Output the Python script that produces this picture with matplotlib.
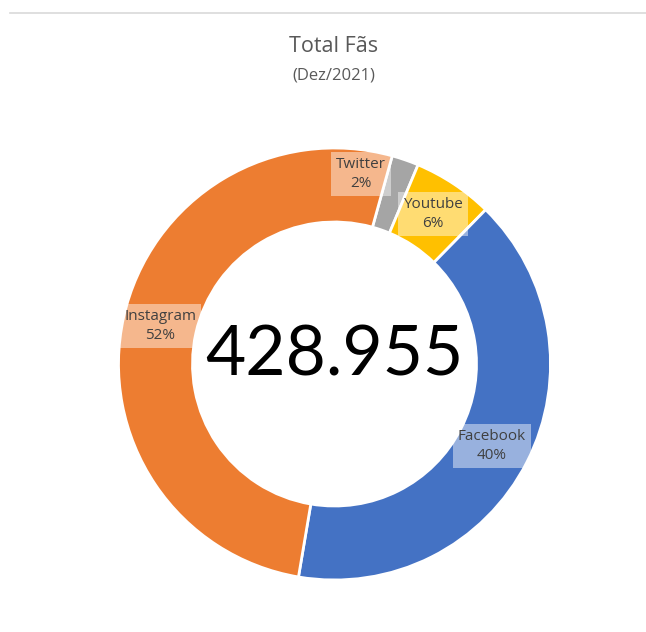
import matplotlib
matplotlib.use("Agg")
import matplotlib.pyplot as plt
from matplotlib.lines import Line2D

# data (clockwise from the first slice)
networks = ["Twitter", "Youtube", "Facebook", "Instagram"]
fans = [8655, 25800, 173000, 221500]
colors = ["#A5A5A5", "#FFC000", "#4472C4", "#ED7D31"]
total_label = "428.955"
title = "Total Fãs"
subtitle = "(Dez/2021)"

W, H = 646, 632
fig = plt.figure(figsize=(W / 100, H / 100), dpi=100)
ax = fig.add_axes([0, 0, 1, 1])

cx, cy = 334.5, H - 364
r_out, r_in = 216, 142

wedges, _ = ax.pie(
    fans, colors=colors, startangle=74.5, counterclock=False,
    radius=r_out, center=(cx, cy),
    wedgeprops=dict(width=r_out - r_in, edgecolor="white", linewidth=2),
)
ax.set_xlim(0, W)
ax.set_ylim(0, H)
ax.set_aspect("equal")
ax.axis("off")

font = ["Open Sans", "DejaVu Sans"]
total = sum(fans)
label_pos = {
    "Twitter": (361, 174),
    "Youtube": (433, 214),
    "Instagram": (160, 326),
    "Facebook": (492, 446),
}
for name, val in zip(networks, fans):
    x, y = label_pos[name]
    ax.text(x, H - y, f"{name}\n{val / total:.0%}", ha="center", va="center",
            fontsize=11, color="#404040", family=font, linespacing=1.45,
            bbox=dict(boxstyle="square,pad=0.3", fc="white", ec="none", alpha=0.45))

ax.text(cx, H - 356, total_label, ha="center", va="center",
        fontsize=50, color="black", family=["Lato", "DejaVu Sans"])

fig.text(334 / W, 1 - 46 / H, title, ha="center", va="center",
         fontsize=15.5, color="#595959", family=font)
fig.text(334 / W, 1 - 75 / H, subtitle, ha="center", va="center",
         fontsize=12, color="#595959", family=font)

fig.add_artist(Line2D([10 / W, 1], [1 - 13 / H, 1 - 13 / H],
                      color="#D9D9D9", linewidth=1.2, transform=fig.transFigure))

fig.savefig("out.png", dpi=100)
